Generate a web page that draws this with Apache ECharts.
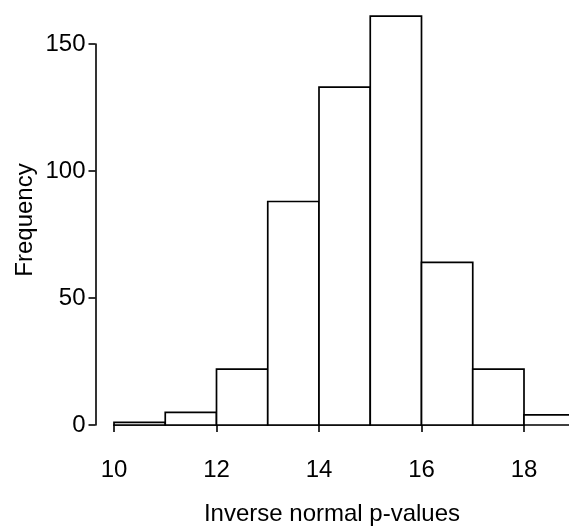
<!DOCTYPE html>
<html>
<head>
<meta charset="utf-8">
<script src="https://cdn.jsdelivr.net/npm/echarts@6/dist/echarts.min.js"></script>
<style>html,body{margin:0;padding:0;background:#fff;}#c{width:569px;height:532px;}</style>
</head>
<body>
<div id="c"></div>
<script>
const binStarts = [10, 11, 12, 13, 14, 15, 16, 17, 18];
const binEnds = [11, 12, 13, 14, 15, 16, 17, 18, 19];
const counts = [1, 5, 22, 88, 133, 161, 64, 22, 4];
const xTicks = [10, 12, 14, 16, 18];
const yTicks = [0, 50, 100, 150];
const xTitle = 'Inverse normal p-values';
const yTitle = 'Frequency';

const FONT = '"Liberation Sans", Arial, Helvetica, sans-serif';
const chart = echarts.init(document.getElementById('c'), null, {renderer: 'canvas'});
const axisCommon = {
  axisLine: {show: true, lineStyle: {color: '#000', width: 1.6}},
  axisTick: {show: true, length: 7, lineStyle: {color: '#000', width: 1.6}},
  splitLine: {show: false},
  axisLabel: {color: '#000', fontSize: 24, fontFamily: FONT}
};
chart.setOption({
  animation: false,
  backgroundColor: '#fff',
  grid: {left: 114, top: 44, width: 410, height: 381, containLabel: false},
  xAxis: Object.assign({}, axisCommon, {
    type: 'value', min: xTicks[0], max: xTicks[xTicks.length - 1], interval: 2,
    offset: 17, position: 'bottom',
    axisLabel: Object.assign({}, axisCommon.axisLabel, {margin: 16})
  }),
  yAxis: Object.assign({}, axisCommon, {
    type: 'value', min: yTicks[0], max: yTicks[yTicks.length - 1], interval: 50,
    offset: 18.5, position: 'left',
    axisLabel: Object.assign({}, axisCommon.axisLabel, {margin: 10})
  }),
  graphic: [
    {type: 'text', x: 332, y: 514, style: {text: xTitle, x: 0, y: 0, font: '24px ' + FONT, fill: '#000', align: 'center', verticalAlign: 'middle'}},
    {type: 'text', x: 25, y: 220, rotation: Math.PI / 2, style: {text: yTitle, x: 0, y: 0, font: '24px ' + FONT, fill: '#000', align: 'center', verticalAlign: 'middle'}}
  ],
  series: [{
    type: 'custom',
    clip: false,
    data: binStarts.map((s, i) => [s, binEnds[i], counts[i]]),
    encode: {x: [0, 1], y: 2},
    renderItem: function (params, api) {
      const p0 = api.coord([api.value(0), 0]);
      const p1 = api.coord([api.value(1), api.value(2)]);
      return {
        type: 'rect',
        shape: {x: p0[0], y: p1[1], width: p1[0] - p0[0], height: p0[1] - p1[1]},
        style: {fill: '#fff', stroke: '#000', lineWidth: 1.7}
      };
    }
  }]
});
</script>
</body>
</html>
